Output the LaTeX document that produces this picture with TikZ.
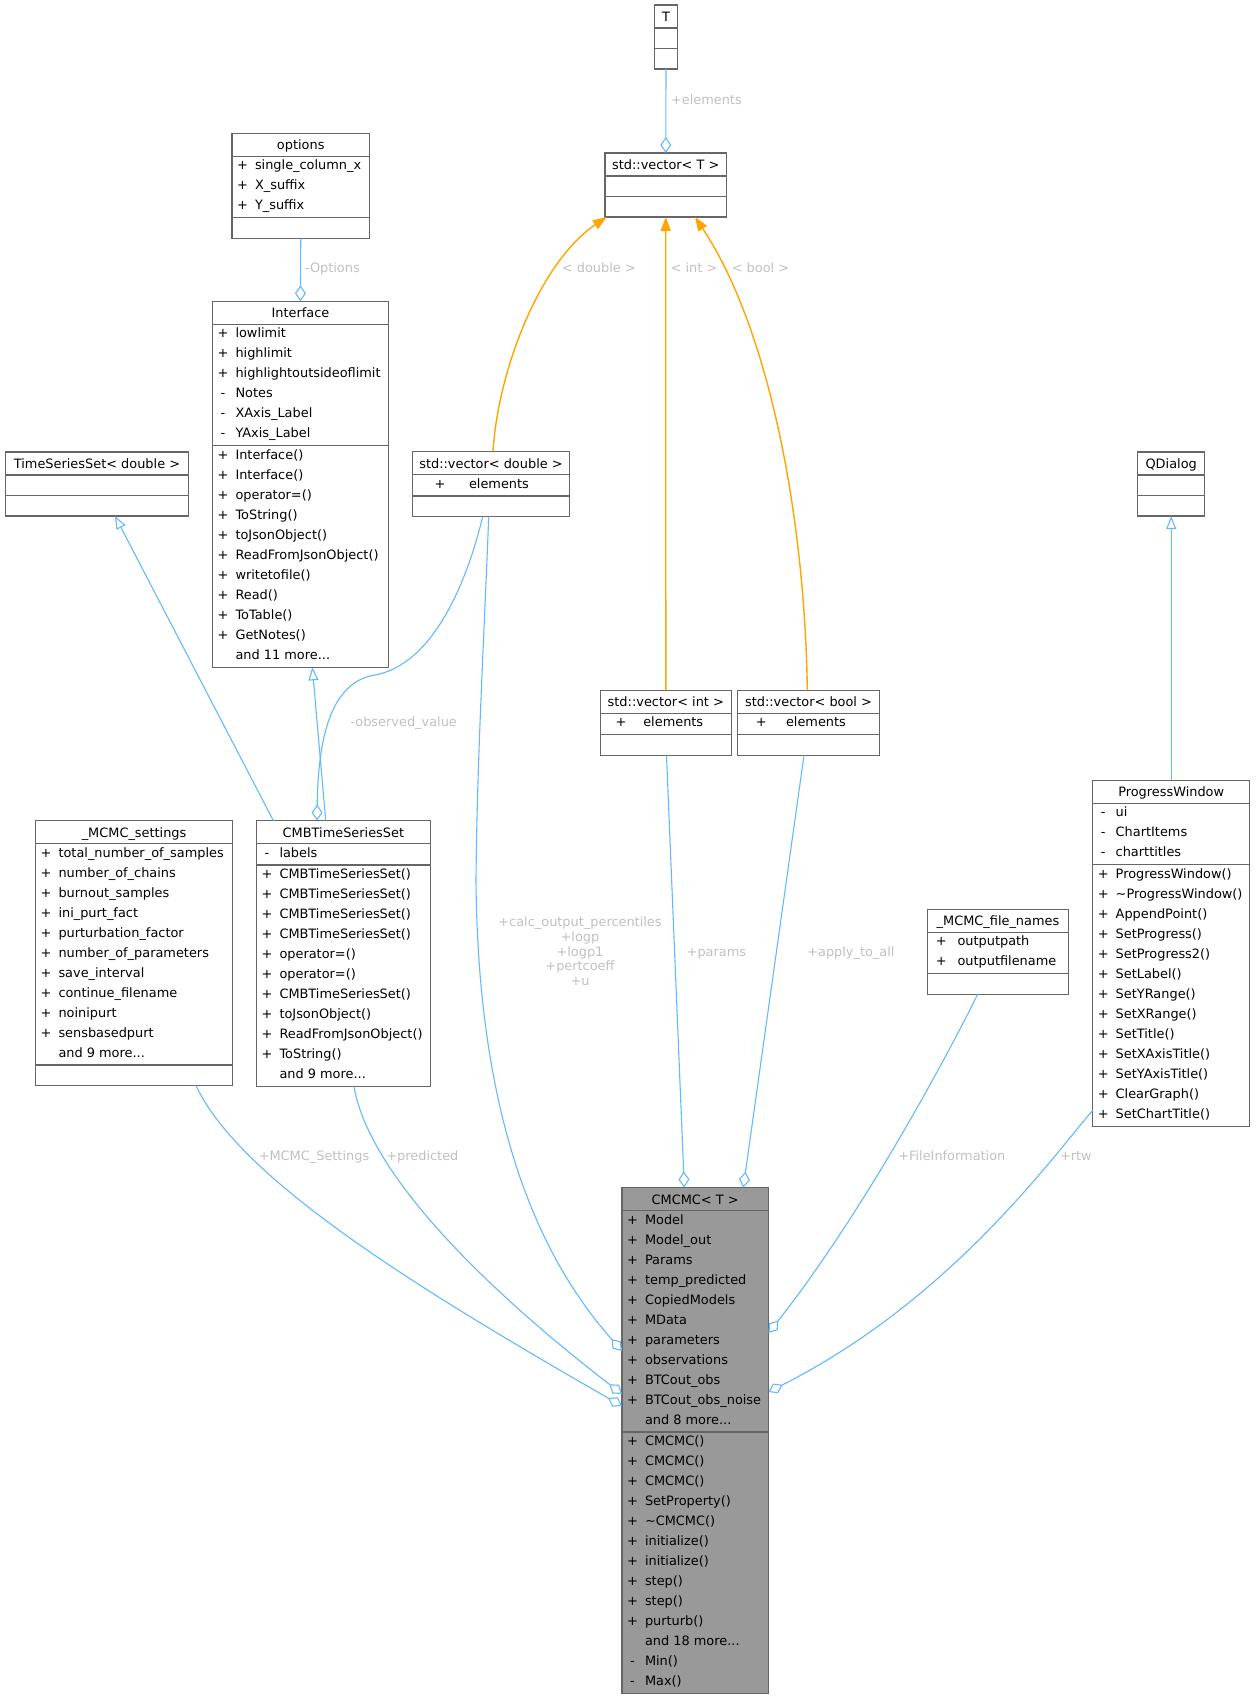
\documentclass[tikz,border=0pt]{standalone}
\usepackage{fontspec}
\setmainfont{DejaVu Sans}
\usetikzlibrary{arrows.meta,calc}
\definecolor{edgeblue}{HTML}{63B8FF}
\definecolor{edgeorange}{HTML}{FFA500}
\definecolor{boxborder}{HTML}{666666}
\definecolor{lblgray}{HTML}{C0C0C0}
\definecolor{cmcmcfill}{HTML}{999999}
\newcommand\ddd{...}
\tikzset{
  classbox/.style={draw=boxborder, line width=1.2pt, fill=white, rectangle, inner sep=0pt, outer sep=0pt},
  divider/.style={draw=boxborder, line width=1.2pt},
  mtext/.style={inner sep=0pt, outer sep=0pt, font=\fontsize{12.9}{15}\selectfont, text=black},
  lbl/.style={inner sep=0pt, outer sep=0pt, font=\fontsize{12.9}{15}\selectfont, text=lblgray},
  agg/.style={draw=edgeblue, line width=1.1pt, -{Diamond[length=16pt,width=11pt,fill=white]}},
  inh/.style={draw=edgeblue, line width=1.1pt, -{Triangle[length=13pt,width=10pt,fill=white]}},
  tmpl/.style={draw=edgeorange, line width=1.4pt, -{Triangle[length=14pt,width=10pt]}},
}
% #1 extra style, #2 name, #3 x, #4 y, #5 width, #6 height, #7 title
\newcommand\umlbox[7][]{%
  \node[classbox, #1, minimum width=#5pt, minimum height=#6pt, anchor=north west] (#2) at (#3,#4) {};
  \node[mtext, anchor=base] (#2-title) at ($(#2.north)+(0,16.5)$) {#7};
  \draw[divider] ($(#2.north west)+(0,23)$) -- ($(#2.north east)+(0,23)$);
}
\newcommand\umldiv[2]{%
  \draw[divider] ($(#1.north west)+(0,#2)$) -- ($(#1.north east)+(0,#2)$);
}
% #1 node, #2 tag, #3 section line offset, #4 prefix x, #5 name x, #6 list
\newcommand\umlrows[6]{%
  \foreach \mpre/\mtxt [count=\rowi from 0] in {#6}{%
    \node[mtext, anchor=base] (#1-#2p\rowi) at ($(#1.north west)+(#4,#3+13.5+20*\rowi)$) {\mpre};
    \node[mtext, anchor=base west] (#1-#2t\rowi) at ($(#1.north west)+(#5,#3+13.5+20*\rowi)$) {\mtxt};
  }%
}
\begin{document}
\begin{tikzpicture}[x=1pt,y=-1pt]
\useasboundingbox (0,0) rectangle (1255,1699);

% ---------- classes ----------
\umlbox{T}{654.5}{5}{23}{64}{T}
\umldiv{T}{43.5}

\umlbox{vecT}{605}{153}{121.5}{64}{std::vector< T >}
\umldiv{vecT}{43.5}

\umlbox{opts}{232}{133.3}{137.5}{105}{options}
\umldiv{opts}{84.5}
\umlrows{opts}{a}{23}{10.5}{23}{+/single\_column\_x, +/X\_suffix, +/Y\_suffix}

\umlbox{iface}{212.5}{301.3}{175.8}{366}{Interface}
\umldiv{iface}{144.5}
\umlrows{iface}{a}{23}{10.5}{23}{+/lowlimit, +/highlimit, +/highlightoutsideoflimit, -/Notes, -/XAxis\_Label, -/YAxis\_Label}
\umlrows{iface}{m}{144.5}{10.5}{23}{+/Interface(), +/Interface(), +/operator=(), +/ToString(), +/toJsonObject(), +/ReadFromJsonObject(), +/writetofile(), +/Read(), +/ToTable(), +/GetNotes(), {}/and 11 more\ddd}

\umlbox{tss}{5.4}{452}{183.2}{64}{TimeSeriesSet< double >}
\umldiv{tss}{43.5}

\umlbox{vd}{412.5}{451.5}{157}{65}{std::vector< double >}
\umldiv{vd}{44.5}
\umlrows{vd}{a}{23}{27.5}{56.5}{+/elements}

\umlbox{qd}{1137.7}{452}{67}{64}{QDialog}
\umldiv{qd}{43.5}

\umlbox{vi}{600.3}{690.3}{131}{65}{std::vector< int >}
\umldiv{vi}{44.5}
\umlrows{vi}{a}{23}{20.7}{43}{+/elements}

\umlbox{vb}{737.7}{690.3}{141.6}{65}{std::vector< bool >}
\umldiv{vb}{44.5}
\umlrows{vb}{a}{23}{23.6}{48.3}{+/elements}

\umlbox{mset}{35.5}{820.5}{197.2}{265}{\_MCMC\_settings}
\umldiv{mset}{244.5}
\umlrows{mset}{a}{23}{10.5}{23}{+/total\_number\_of\_samples, +/number\_of\_chains, +/burnout\_samples, +/ini\_purt\_fact, +/purturbation\_factor, +/number\_of\_parameters, +/save\_interval, +/continue\_filename, +/noinipurt, +/sensbasedpurt, {}/and 9 more\ddd}

\umlbox{cmb}{256.5}{820.5}{173.8}{266}{CMBTimeSeriesSet}
\umldiv{cmb}{44.5}
\umlrows{cmb}{a}{23}{10.5}{23}{-/labels}
\umlrows{cmb}{m}{44.5}{10.5}{23}{+/CMBTimeSeriesSet(), +/CMBTimeSeriesSet(), +/CMBTimeSeriesSet(), +/CMBTimeSeriesSet(), +/operator=(), +/operator=(), +/CMBTimeSeriesSet(), +/toJsonObject(), +/ReadFromJsonObject(), +/ToString(), {}/and 9 more\ddd}

\umlbox{fn}{927.5}{909.3}{141}{85}{\_MCMC\_file\_names}
\umldiv{fn}{64.5}
\umlrows{fn}{a}{23}{13.7}{30}{+/outputpath, +/outputfilename}

\umlbox{pw}{1092.7}{780.3}{157}{346}{ProgressWindow}
\umldiv{pw}{84.5}
\umlrows{pw}{a}{23}{10.5}{23}{-/ui, -/ChartItems, -/charttitles}
\umlrows{pw}{m}{84.5}{10.5}{23}{+/ProgressWindow(), +/\textasciitilde ProgressWindow(), +/AppendPoint(), +/SetProgress(), +/SetProgress2(), +/SetLabel(), +/SetYRange(), +/SetXRange(), +/SetTitle(), +/SetXAxisTitle(), +/SetYAxisTitle(), +/ClearGraph(), +/SetChartTitle()}

\umlbox[fill=cmcmcfill]{cm}{622}{1187.5}{146.4}{506}{CMCMC< T >}
\umldiv{cm}{244.5}
\umlrows{cm}{a}{23}{10.5}{23}{+/Model, +/Model\_out, +/Params, +/temp\_predicted, +/CopiedModels, +/MData, +/parameters, +/observations, +/BTCout\_obs, +/BTCout\_obs\_noise, {}/and 8 more\ddd}
\umlrows{cm}{m}{244.5}{10.5}{23}{+/CMCMC(), +/CMCMC(), +/CMCMC(), +/SetProperty(), +/\textasciitilde CMCMC(), +/initialize(), +/initialize(), +/step(), +/step(), +/purturb(), {}/and 18 more\ddd, -/Min(), -/Max()}

% ---------- connectors ----------
\draw[agg] (T.south) -- (vecT.north);
\draw[agg] (opts.south) -- (iface.north);

\draw[tmpl] ($(vd.north west)+(80.5,0)$) .. controls (498,370) and (540,262) .. ($(vecT.south west)+(1.7,0)$);
\draw[tmpl] (vi.north) -- (vecT.south);
\draw[tmpl] ($(vb.north west)+(69.6,0)$) .. controls (805,520) and (770,330) .. ($(vecT.south west)+(90,0)$);

\draw[inh] (pw.north) -- (qd.south);
\draw[inh] ($(cmb.north west)+(16.8,0)$) -- ($(tss.south west)+(109.6,0)$);
\draw[inh] ($(cmb.north west)+(69.2,0)$) -- ($(iface.south west)+(99.8,0)$);

\draw[agg] ($(vd.south west)+(70.2,0)$) .. controls (465,590) and (430,665) .. (375,675)
           .. controls (330,682) and (318,740) .. ($(cmb.north west)+(60.5,0)$);

\draw[agg] ($(vd.south west)+(76.2,0)$) .. controls (484,640) and (477,760) .. (476,880)
           .. controls (478,1150) and (555,1275) .. ($(cm.north west)+(0,163.5)$);

\draw[agg] ($(mset.south west)+(160.5,0)$) .. controls (240,1180) and (420,1290) .. ($(cm.north west)+(0,218.5)$);
\draw[agg] ($(cmb.south west)+(97.5,0)$) .. controls (370,1180) and (500,1300) .. ($(cm.north west)+(0,206.5)$);

\draw[agg] ($(vi.south)+(0.7,0)$) -- ($(cm.north west)+(62.3,0)$);
\draw[agg] ($(vb.south west)+(66.3,0)$) -- ($(cm.north west)+(121.3,0)$);

\draw[agg] ($(fn.south west)+(50.2,0)$) .. controls (930,1090) and (850,1230) .. ($(cm.north east)+(0,145.5)$);
\draw[agg] ($(pw.south west)+(0,-16)$) .. controls (1050,1160) and (950,1300) .. ($(cm.north east)+(0,204.5)$);

% ---------- labels ----------
\node[lbl, anchor=base west] (l-elements) at (671,104.5) {+elements};
\node[lbl, anchor=base west] (l-options) at (305,272.5) {-Options};
\node[lbl, anchor=base] (l-double) at (598.8,272.8) {< double >};
\node[lbl, anchor=base west] (l-int) at (670.7,272.8) {< int >};
\node[lbl, anchor=base] (l-bool) at (760.5,272.8) {< bool >};
\node[lbl, anchor=base] (l-observed) at (403.7,726.8) {-observed\_value};
\foreach \ltxt [count=\li from 0] in {+calc\_output\_percentiles, +logp, +logp1, +pertcoeff, +u}{%
  \node[lbl, anchor=base] (l-vd-\li) at (580,926.8+14.6*\li) {\ltxt};
}
\node[lbl, anchor=base west] (l-params) at (686.7,956.2) {+params};
\node[lbl, anchor=base west] (l-apply) at (807.3,956.2) {+apply\_to\_all};
\node[lbl, anchor=base] (l-settings) at (314,1160) {+MCMC\_Settings};
\node[lbl, anchor=base] (l-predicted) at (422.4,1160) {+predicted};
\node[lbl, anchor=base west] (l-fileinfo) at (898.3,1160.2) {+FileInformation};
\node[lbl, anchor=base west] (l-rtw) at (1060,1160.2) {+rtw};
\end{tikzpicture}
\end{document}
